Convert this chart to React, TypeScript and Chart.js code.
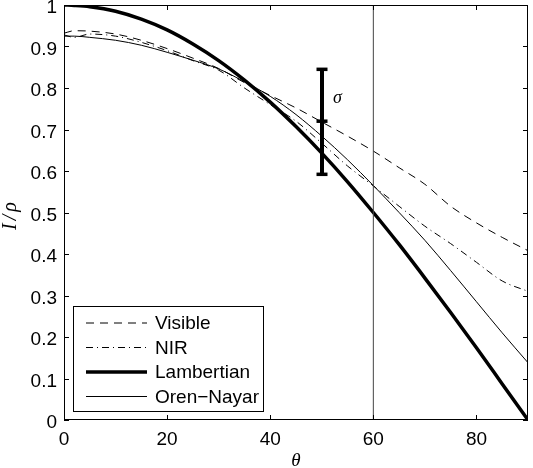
import React, { useEffect, useRef } from "react";
import { Chart, registerables } from "chart.js";
Chart.register(...registerables);

const theta = [0, 2, 5, 10, 15, 20, 25, 30, 35, 40, 45, 50, 55, 60, 65, 70, 75, 80, 85, 90];
const visible = [0.932, 0.938, 0.937, 0.93, 0.915, 0.895, 0.872, 0.847, 0.813, 0.782, 0.752, 0.718, 0.684, 0.648, 0.608, 0.568, 0.515, 0.475, 0.44, 0.408];
const nir = [0.928, 0.922, 0.93, 0.925, 0.91, 0.89, 0.866, 0.843, 0.8, 0.76, 0.72, 0.667, 0.612, 0.564, 0.515, 0.467, 0.425, 0.38, 0.335, 0.31];
const lambertian = [1, 0.999, 0.996, 0.985, 0.966, 0.94, 0.906, 0.866, 0.819, 0.766, 0.707, 0.643, 0.574, 0.5, 0.423, 0.342, 0.259, 0.174, 0.087, 0];
const orenNayar = [0.925, 0.925, 0.922, 0.915, 0.903, 0.886, 0.867, 0.846, 0.815, 0.78, 0.736, 0.684, 0.627, 0.565, 0.5, 0.433, 0.36, 0.285, 0.21, 0.138];
const seriesLabels = ["Visible", "NIR", "Lambertian", "Oren\u2212Nayar"];
const xTicks = [0, 20, 40, 60, 80];
const yTicks = [0, 0.1, 0.2, 0.3, 0.4, 0.5, 0.6, 0.7, 0.8, 0.9, 1];
const markerTheta = 60;
const errTheta = 50;
const errLow = 0.592;
const errMid = 0.72;
const errHigh = 0.845;
const xTitle = "\u03B8";
const yTitleParts = ["I", "/", "\u03C1"];
const sigmaLabel = "\u03C3";

const FONT = "'Liberation Sans', Arial, sans-serif";
const SERIF = "'Liberation Serif', 'DejaVu Serif', serif";

const toPts = (ys: number[]) => ys.map((y, i) => ({ x: theta[i], y }));

const styles = [
  { borderWidth: 1, borderDash: [8, 6] },
  { borderWidth: 1, borderDash: [7, 4, 1, 4] },
  { borderWidth: 3.5, borderDash: [] as number[] },
  { borderWidth: 1, borderDash: [] as number[] },
];

const framePlugin = {
  id: "frame",
  afterDatasetsDraw(chart: any) {
    const { ctx, chartArea: a, scales } = chart;
    const xs = scales.x, ys = scales.y;
    ctx.save();
    // error bar
    const ex = Math.round(xs.getPixelForValue(errTheta));
    ctx.strokeStyle = "#000";
    ctx.lineWidth = 4;
    ctx.beginPath();
    ctx.moveTo(ex, ys.getPixelForValue(errLow));
    ctx.lineTo(ex, ys.getPixelForValue(errHigh));
    ctx.stroke();
    ctx.lineWidth = 3.5;
    for (const v of [errLow, errMid, errHigh]) {
      const py = ys.getPixelForValue(v);
      ctx.beginPath();
      ctx.moveTo(ex - 5.5, py);
      ctx.lineTo(ex + 5.5, py);
      ctx.stroke();
    }
    ctx.fillStyle = "#000";
    ctx.font = "italic 18px " + SERIF;
    ctx.textAlign = "left";
    ctx.textBaseline = "middle";
    ctx.fillText(sigmaLabel, ex + 11, ys.getPixelForValue(0.775));

    // box
    ctx.lineWidth = 1;
    ctx.strokeStyle = "#000";
    ctx.strokeRect(a.left + 0.5, a.top + 0.5, a.right - a.left - 1, a.bottom - a.top - 1);
    // ticks
    const tl = 5;
    ctx.beginPath();
    for (const t of xTicks) {
      const px = Math.round(xs.getPixelForValue(t)) + 0.5;
      ctx.moveTo(px, a.bottom);
      ctx.lineTo(px, a.bottom - tl);
      ctx.moveTo(px, a.top);
      ctx.lineTo(px, a.top + tl);
    }
    for (const t of yTicks) {
      const py = Math.round(ys.getPixelForValue(t)) + 0.5;
      ctx.moveTo(a.left, py);
      ctx.lineTo(a.left + tl, py);
      ctx.moveTo(a.right, py);
      ctx.lineTo(a.right - tl, py);
    }
    ctx.stroke();

    // legend
    const lx = 73.5, ly = 306.5, lw = 190, lh = 105;
    ctx.fillStyle = "#fff";
    ctx.fillRect(lx, ly, lw, lh);
    ctx.strokeStyle = "#000";
    ctx.lineWidth = 1;
    ctx.strokeRect(lx, ly, lw, lh);
    ctx.font = "19px " + FONT;
    ctx.textBaseline = "middle";
    ctx.textAlign = "left";
    seriesLabels.forEach((lab, i) => {
      const ry = 323 + i * 24.5;
      ctx.save();
      ctx.lineWidth = styles[i].borderWidth;
      ctx.setLineDash(styles[i].borderDash);
      ctx.beginPath();
      ctx.moveTo(86, ry);
      ctx.lineTo(147, ry);
      ctx.stroke();
      ctx.restore();
      ctx.fillStyle = "#000";
      ctx.fillText(lab, 155, ry + 1);
    });

    // axis titles
    ctx.font = "italic 19px " + SERIF;
    ctx.textAlign = "center";
    ctx.fillText(xTitle, (a.left + a.right) / 2, 461);
    ctx.save();
    ctx.translate(11, 216);
    ctx.rotate(-Math.PI / 2);
    ctx.font = "italic 20px " + SERIF;
    ctx.textAlign = "left";
    const gap = 3;
    const widths = yTitleParts.map((p) => ctx.measureText(p).width);
    const total = widths.reduce((s, w) => s + w, 0) + gap * (yTitleParts.length - 1);
    let cx = -total / 2;
    yTitleParts.forEach((p, i) => {
      ctx.fillText(p, cx, 0);
      cx += widths[i] + gap;
    });
    ctx.restore();
    ctx.restore();
  },
};

export default function App() {
  const ref = useRef<HTMLCanvasElement>(null);
  useEffect(() => {
    if (!ref.current) return;
    const series = [visible, nir, lambertian, orenNayar];
    const chart = new Chart(ref.current, {
      type: "scatter",
      data: {
        datasets: [
          {
            label: "marker",
            data: [
              { x: markerTheta, y: 0 },
              { x: markerTheta, y: 1 },
            ],
            showLine: true,
            borderColor: "#444",
            borderWidth: 1,
            pointRadius: 0,
          },
          ...series.map((s, i) => ({
            label: seriesLabels[i],
            data: toPts(s),
            showLine: true,
            borderColor: "#000",
            borderWidth: styles[i].borderWidth,
            borderDash: styles[i].borderDash,
            pointRadius: 0,
            cubicInterpolationMode: "monotone" as const,
          })),
        ],
      },
      options: {
        animation: false,
        responsive: false,
        devicePixelRatio: 1,
        layout: { padding: { top: 5, right: 5, left: 0, bottom: 0 } },
        plugins: { legend: { display: false }, tooltip: { enabled: false } },
        scales: {
          x: {
            type: "linear",
            min: 0,
            max: 90,
            afterBuildTicks: (s: any) => {
              s.ticks = xTicks.map((v) => ({ value: v }));
            },
            afterFit: (s: any) => {
              s.height = 48;
              s.paddingLeft = 0;
              s.paddingRight = 0;
            },
            grid: { display: false, drawTicks: false },
            border: { display: false },
            ticks: { font: { size: 19, family: FONT }, color: "#000", padding: 8, callback: (v: any) => String(v) },
          },
          y: {
            type: "linear",
            min: 0,
            max: 1,
            afterBuildTicks: (s: any) => {
              s.ticks = yTicks.map((v) => ({ value: v }));
            },
            afterFit: (s: any) => {
              s.width = 64;
              s.paddingTop = 0;
              s.paddingBottom = 0;
            },
            grid: { display: false, drawTicks: false },
            border: { display: false },
            ticks: {
              font: { size: 19, family: FONT },
              color: "#000",
              padding: 7,
              labelOffset: 3,
              callback: (v: any) => String(+Number(v).toFixed(1)),
            },
          },
        },
      },
      plugins: [framePlugin],
    });
    return () => chart.destroy();
  }, []);
  return (
    <div style={{ position: "fixed", left: 0, top: 0, width: 533, height: 468, background: "#fff" }}>
      <canvas ref={ref} width={533} height={468} />
    </div>
  );
}
